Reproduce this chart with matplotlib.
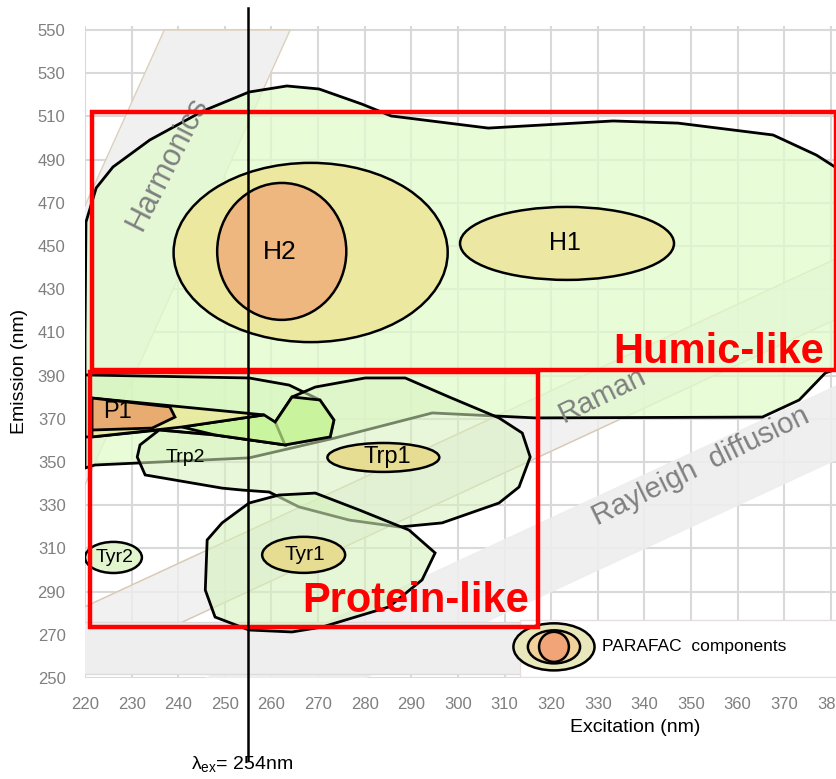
import matplotlib.pyplot as plt
from matplotlib.patches import Polygon, Ellipse, Rectangle
from matplotlib.colors import to_rgba
import numpy as np

plt.rcParams['font.family'] = ['Liberation Sans', 'DejaVu Sans']

# ---- data (excitation nm, emission nm) ----
humic_ex = [220.2, 222.4, 226.0, 233.9, 245.3, 255.2, 263.3, 270.2, 279.4, 285.7, 306.5, 333.3,
            347.2, 367.6, 376.9, 381.6, 390, 390, 378.8, 373.2, 365.3, 316.6, 294.5, 273.6, 255.2,
            222.1, 220, 220]
humic_em = [461.1, 476.9, 486.6, 499.1, 512.5, 521.3, 524.1, 522.7, 515.7, 510.2, 504.6, 507.9,
            506.9, 501.4, 492.1, 485.6, 470, 400, 391.2, 378.7, 370.8, 370.4, 372.7, 361.1, 351.9,
            348.6, 347.2, 407.9]

trp2_ex = [220, 255.2, 263.8, 270.4, 273.4, 272.6, 262.9, 247.9, 235.9, 221.5, 220]
trp2_em = [390.3, 388.9, 385.6, 378.7, 369.4, 361.6, 357.9, 362.5, 364.8, 361.6, 361.6]

trp1_ex = [264.4, 269.4, 280.1, 288.7, 298.1, 308.8, 313.8, 315.5, 313.1, 308.8, 296.6, 287.4,
           276.7, 265.9, 259.5, 253.7, 249.4, 232.9, 231.2, 231.8, 235.9, 247.9, 262.9, 260.8]
trp1_em = [380.1, 384.7, 388.9, 388.9, 380.1, 370.4, 363.4, 352.3, 338.4, 331.0, 321.8, 319.9,
           323.1, 329.2, 336.1, 337.0, 337.9, 344.0, 352.3, 357.9, 364.8, 362.5, 357.9, 368.5]

green_ex = [240.8, 258.4, 260.8, 264.4, 270.4, 273.4, 272.6, 262.9, 247.9]
green_em = [366.2, 371.8, 368.5, 380.1, 378.7, 369.4, 361.6, 357.9, 362.5]

spike_ex = [221.5, 258.4, 240.8, 221.5]
spike_em = [379.6, 371.8, 366.2, 361.6]

p1_ex = [221.5, 238.2, 239.3, 234.4, 221.5]
p1_em = [379.6, 375.5, 370.8, 365.7, 364.8]

tyr1_ex = [255.2, 261.6, 269.4, 278.8, 289.5, 295.1, 292.3, 285.2, 270.9, 264.4, 255.2, 247.9,
           245.8, 246.2, 249.4]
tyr1_em = [331.0, 334.7, 335.6, 327.8, 318.5, 307.9, 295.4, 282.9, 273.6, 271.3, 272.2, 278.2,
           290.7, 313.9, 321.8]

# ellipses: center ex, center em, width, height
ell_cx = [268.4, 262.2, 323.4, 284.0, 266.9, 226.1]
ell_cy = [447.0, 447.5, 451.2, 352.1, 307.0, 305.8]
ell_w = [58.8, 27.7, 45.9, 24.0, 17.8, 12.2]
ell_h = [83.0, 63.4, 33.8, 13.4, 16.7, 14.4]
ell_col = ['#ece8a0', '#efb780', '#ece8a4', '#e6dc92', '#e6dc92', '#e2f5cf']

labels = ['H2', 'H1', 'P1', 'Trp2', 'Trp1', 'Tyr1', 'Tyr2']
label_ex = [261.8, 323.0, 226.9, 241.5, 284.8, 267.2, 226.4]
label_em = [447.0, 451.4, 373.0, 352.0, 352.3, 307.0, 305.6]
label_size = [19, 18, 17, 14, 17, 15, 14]

harm_ex = [237, 264, 201.3, 174.3]
harm_em = [550, 550, 250, 250]
band_ex = np.array([200, 400])
raman_lo, raman_hi = band_ex + 35, band_ex + 63
rayl_lo, rayl_hi = band_ex - 30, band_ex + 4

humic_box = (221.5, 392.6, 381.0, 512.0)
protein_box = (221.0, 273.4, 317.1, 391.7)
lambda_ex = 255

fig = plt.figure(figsize=(8.36, 7.79), dpi=100)
ax = fig.add_axes([0.1017, 0.1297, 0.8983, 0.8373])
ax.set_xlim(220, 381.1)
ax.set_ylim(250, 552)
for s in ax.spines.values():
    s.set_visible(False)
ax.set_xticks(np.arange(220, 381, 10))
ax.set_yticks(np.arange(250, 551, 20))
ax.tick_params(length=0, labelsize=12, labelcolor='#7f7f7f', pad=14)
ax.grid(True, color='#d9d9d9', lw=1.5, zorder=0)
ax.set_axisbelow(True)

# scatter bands
ax.fill_between(band_ex, raman_lo, raman_hi, color='#eeeeee', alpha=0.8, zorder=1)
ax.plot(band_ex, raman_lo, color='#d8c8b0', lw=1, zorder=1)
ax.plot(band_ex, raman_hi, color='#d8c8b0', lw=1, zorder=1)
ax.fill_between(band_ex, rayl_lo, rayl_hi, color='#eeeeee', alpha=0.9, zorder=1)
ax.add_patch(Polygon(list(zip(harm_ex, harm_em)), fc='#f0f0f0', ec='#ddd0bc', lw=1, zorder=1))
ax.add_patch(Rectangle((200, 252), 200, 24, fc='#eeeeee', ec='#dcdcdc', lw=1, zorder=1))


def blob(xs, ys, fc, alpha, z):
    ax.add_patch(Polygon(list(zip(xs, ys)), closed=True, fc=to_rgba(fc, alpha),
                         ec='black', lw=2, zorder=z))


blob(humic_ex, humic_em, '#e2fbcc', 0.75, 2)
blob(trp2_ex, trp2_em, '#d6f5bd', 0.7, 3)
blob(trp1_ex, trp1_em, '#d6f2bd', 0.55, 3)
blob(tyr1_ex, tyr1_em, '#d6f2bd', 0.6, 3)
blob(green_ex, green_em, '#c4f58f', 0.7, 4)
blob(spike_ex, spike_em, '#ece89a', 0.8, 4)
blob(p1_ex, p1_em, '#e9a56c', 0.9, 5)

for cx, cy, w, h, c in zip(ell_cx, ell_cy, ell_w, ell_h, ell_col):
    ax.add_patch(Ellipse((cx, cy), w, h, fc=c, ec='black', lw=1.8, zorder=5))

for t, x, y, s in zip(labels, label_ex, label_em, label_size):
    ax.text(x, y, t, fontsize=s, ha='center', va='center', zorder=7)

ax.text(237.6, 488, 'Harmonics', rotation=63, fontsize=22, color='#808080',
        ha='center', va='center', zorder=6)
ax.text(331, 381, 'Raman', rotation=26, fontsize=21, color='#808080',
        ha='center', va='center', zorder=2)
ax.text(352, 348, 'Rayleigh  diffusion', rotation=26, fontsize=21, color='#808080',
        ha='center', va='center', zorder=6)

for (x0, y0, x1, y1) in [humic_box, protein_box]:
    ax.add_patch(Rectangle((x0, y0), x1 - x0, y1 - y0, fill=False, ec='#ff0000', lw=3.2, zorder=8))
ax.text(378.6, 401, 'Humic-like', fontsize=30, fontweight='bold', color='#ff0000',
        ha='right', va='center', zorder=9)
ax.text(315.3, 285.5, 'Protein-like', fontsize=30, fontweight='bold', color='#ff0000',
        ha='right', va='center', zorder=9)

# legend
ax.add_patch(Rectangle((313.4, 250.6), 69, 26.4, fc='white', ec='#e8dcdc', lw=1, zorder=6))
for w, h, c in [(17.4, 21.8, '#e8e8bc'), (11.2, 15.3, '#f0d29a'), (6.4, 13.9, '#f0a478')]:
    ax.add_patch(Ellipse((320.6, 264.4), w, h, fc=c, ec='black', lw=1.8, zorder=7))
ax.text(331, 264.6, 'PARAFAC  components', fontsize=12.5, ha='left', va='center', zorder=8)

ax.plot([lambda_ex, lambda_ex], [212, 560], color='black', lw=1.8, clip_on=False, zorder=10)
ax.text(253.7, 210, r'$\mathregular{\lambda_{ex}}$= 254nm', fontsize=14, ha='center',
        va='center', clip_on=False)

ax.text(338, 227, 'Excitation (nm)', fontsize=14, ha='center', va='center')
ax.text(-0.087, 0.47, 'Emission (nm)', fontsize=14, rotation=90, ha='center', va='center',
        transform=ax.transAxes)

fig.savefig('out.png', dpi=100)
